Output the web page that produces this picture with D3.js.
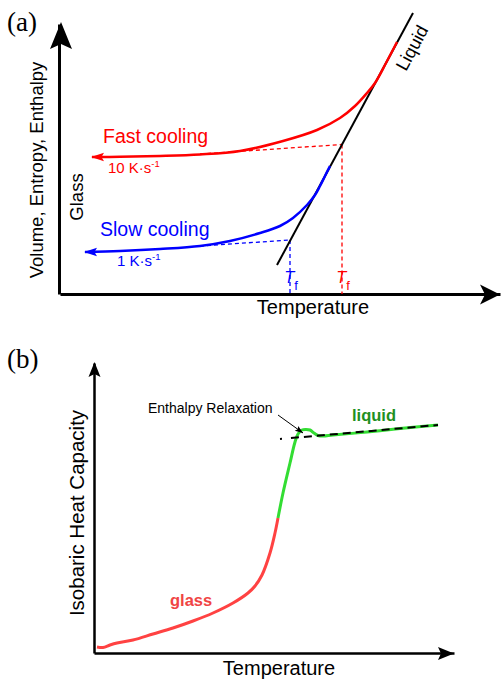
<!DOCTYPE html>
<html>
<head>
<meta charset="utf-8">
<script src="https://cdn.jsdelivr.net/npm/d3@7"></script>
<style>
body { margin: 0; background: #fff; }
svg { display: block; font-family: "Liberation Sans", Arial, sans-serif; }
</style>
</head>
<body>
<svg id="chart" width="501" height="681"></svg>
<script>
// ---- panel (a): schematic units (x = temperature, y = volume / entropy / enthalpy)
var liquidLine = [[217, 29], [353, 281]];
var fastCooling = [[32, 137], [60, 137.2], [100, 138], [140, 139.5], [180, 143], [223, 153],
  [257, 164], [280, 176], [295, 188], [307, 201], [315, 211], [326, 231], [337, 252]];
var slowCooling = [[25, 42], [60, 43], [100, 45], [140, 48], [170, 53], [200, 61], [220, 68],
  [233, 76], [247, 89], [255, 99], [260, 108], [265, 118], [270, 128]];
var fastGlass = [[140, 140], [282, 149.5]];   // glass line extrapolated to the liquid line
var slowGlass = [[140, 48], [230, 54]];
var rateLabels = ["10 K\u00b7s", "1 K\u00b7s"];

// ---- panel (b): schematic units (x = temperature, y = Cp)
var glassCp = [[3, 6], [9, 5.5], [16, 8], [23, 10], [39, 13], [59, 19], [79, 25], [99, 32],
  [119, 40], [139, 50], [154, 60], [161, 67], [168, 78], [176, 100], [181, 120], [184, 135]];
var liquidCp = [[184, 135], [189, 160], [196, 190], [201, 211], [204, 219], [208, 223],
  [212, 223.5], [216, 223], [220, 220], [224, 217.5], [229, 217], [239, 218], [273, 221],
  [306, 224.5], [344, 228]];
var liquidCpLine = [[186, 214], [344, 228]];
var relaxArrow = [[184, 238], [209, 220]];

var svg = d3.select('#chart');

var xa = d3.scaleLinear().domain([0, 440]).range([60, 500]);
var ya = d3.scaleLinear().domain([0, 270]).range([294, 24]);
var xb = d3.scaleLinear().domain([0, 360]).range([94, 454]);
var yb = d3.scaleLinear().domain([0, 290]).range([653, 363]);

function headPath(len, hw, notch) {
  return 'M0,0L' + (-len) + ',' + (-hw) + 'L' + (-len + notch) + ',0L' + (-len) + ',' + hw + 'Z';
}
function arrowHead(g, x, y, angle, len, hw, notch, color) {
  g.append('path')
    .attr('d', headPath(len, hw, notch))
    .attr('fill', color)
    .attr('transform', 'translate(' + x + ',' + y + ') rotate(' + angle + ')');
}

// ================= panel (a)
var ga = svg.append('g');
var lineA = d3.line().x(function(d) { return xa(d[0]); }).y(function(d) { return ya(d[1]); });
var curveA = d3.line().curve(d3.curveCatmullRom.alpha(0.5))
  .x(function(d) { return xa(d[0]); }).y(function(d) { return ya(d[1]); });

ga.append('g').attr('transform', 'translate(0,' + ya(0) + ')')
  .call(d3.axisBottom(xa).tickValues([]).tickSizeOuter(0))
  .select('.domain').attr('stroke-width', 3);
ga.append('g').attr('transform', 'translate(' + (xa(0) - 1) + ',0)')
  .call(d3.axisLeft(ya).tickValues([]).tickSizeOuter(0))
  .select('.domain').attr('stroke-width', 3);
arrowHead(ga, 61, 22, -90, 27, 11, 5, '#000');
arrowHead(ga, 500, 294.5, 0, 20, 10, 5, '#000');

// dashed glass extrapolations and fictive temperatures
[[fastGlass, '#ff0000'], [slowGlass, '#0000ff']].forEach(function(p) {
  var pts = p[0], c = p[1], end = pts[pts.length - 1];
  ga.append('path').attr('d', lineA(pts)).attr('fill', 'none')
    .attr('stroke', c).attr('stroke-width', 1.3).attr('stroke-dasharray', '4,3');
  ga.append('path').attr('d', lineA([end, [end[0], 0]])).attr('fill', 'none')
    .attr('stroke', c).attr('stroke-width', 1.3).attr('stroke-dasharray', '4,3');
  var tf = ga.append('text').attr('x', xa(end[0]) + 1).attr('y', 282.5)
    .attr('text-anchor', 'middle').attr('fill', c).attr('font-size', 16.5);
  tf.append('tspan').attr('font-style', 'italic').text('T');
  tf.append('tspan').attr('font-size', 13).attr('dy', 7).text('f');
});

ga.append('path').attr('d', lineA(liquidLine)).attr('fill', 'none')
  .attr('stroke', '#000').attr('stroke-width', 2);

[[fastCooling, '#ff0000'], [slowCooling, '#0000ff']].forEach(function(p) {
  var pts = p[0];
  ga.append('path').attr('d', curveA(pts)).attr('fill', 'none')
    .attr('stroke', p[1]).attr('stroke-width', 2.5);
  arrowHead(ga, xa(pts[0][0]) - 1, ya(pts[0][1]), 180, 13, 4.3, 2.5, p[1]);
});

ga.append('text').attr('x', 103).attr('y', 143).attr('fill', '#ff0000')
  .attr('font-size', 19.5).text('Fast cooling');
ga.append('text').attr('x', 100).attr('y', 236).attr('fill', '#0000ff')
  .attr('font-size', 19.5).text('Slow cooling');
[[rateLabels[0], 108, 173, '#ff0000'], [rateLabels[1], 117, 266, '#0000ff']].forEach(function(r) {
  var t = ga.append('text').attr('x', r[1]).attr('y', r[2]).attr('fill', r[3]).attr('font-size', 15);
  t.append('tspan').text(r[0]);
  t.append('tspan').attr('font-size', 9.5).attr('dy', -6).text('-1');
});

var ang = Math.atan2(ya(liquidLine[1][1]) - ya(liquidLine[0][1]), xa(liquidLine[1][0]) - xa(liquidLine[0][0])) * 180 / Math.PI;
ga.append('text').attr('transform', 'translate(406,72) rotate(' + ang + ')')
  .attr('font-size', 18).text('Liquid');

ga.append('text').attr('transform', 'translate(42.5,170) rotate(-90)')
  .attr('text-anchor', 'middle').attr('font-size', 18.5).text('Volume, Entropy, Enthalpy');
ga.append('text').attr('transform', 'translate(83,197) rotate(-90)')
  .attr('text-anchor', 'middle').attr('font-size', 18.5).text('Glass');
ga.append('text').attr('x', 313).attr('y', 313.5).attr('text-anchor', 'middle')
  .attr('font-size', 20).text('Temperature');
ga.append('text').attr('x', 7).attr('y', 31).attr('font-family', '"Liberation Serif", serif')
  .attr('font-size', 27).text('(a)');

// ================= panel (b)
var gb = svg.append('g');
var lineB = d3.line().x(function(d) { return xb(d[0]); }).y(function(d) { return yb(d[1]); });
var curveB = d3.line().curve(d3.curveCatmullRom.alpha(0.5))
  .x(function(d) { return xb(d[0]); }).y(function(d) { return yb(d[1]); });

gb.append('g').attr('transform', 'translate(0,' + yb(0) + ')')
  .call(d3.axisBottom(xb).tickValues([]).tickSizeOuter(0))
  .select('.domain').attr('stroke-width', 2.5);
gb.append('g').attr('transform', 'translate(' + xb(0) + ',0)')
  .call(d3.axisLeft(yb).tickValues([]).tickSizeOuter(0))
  .select('.domain').attr('stroke-width', 2.5);
arrowHead(gb, 94.5, 362, -90, 15, 6, 3, '#000');
arrowHead(gb, 454, 653.5, 0, 16, 6.5, 3, '#000');

gb.append('path').attr('d', curveB(glassCp)).attr('fill', 'none')
  .attr('stroke', '#ff4242').attr('stroke-width', 3);
gb.append('path').attr('d', curveB(liquidCp)).attr('fill', 'none')
  .attr('stroke', '#33dd33').attr('stroke-width', 3);
gb.append('path').attr('d', lineB(liquidCpLine)).attr('fill', 'none')
  .attr('stroke', '#000').attr('stroke-width', 2).attr('stroke-dasharray', '2,9,8,5,8,5,8,5,8,5,8,5,8,5,8,5,8,5,8,5,8,5,8,5,8,5,8,5,8,5,8,5');

gb.append('path').attr('d', lineB(relaxArrow)).attr('stroke', '#000').attr('stroke-width', 1);
var ra = Math.atan2(yb(relaxArrow[1][1]) - yb(relaxArrow[0][1]), xb(relaxArrow[1][0]) - xb(relaxArrow[0][0])) * 180 / Math.PI;
arrowHead(gb, xb(relaxArrow[1][0]), yb(relaxArrow[1][1]), ra, 8, 3, 1.5, '#000');

gb.append('text').attr('x', 148).attr('y', 413).attr('font-size', 14).text('Enthalpy Relaxation');
gb.append('text').attr('x', 170).attr('y', 606).attr('font-size', 16.5).attr('font-weight', 'bold')
  .attr('fill', '#f04444').text('glass');
gb.append('text').attr('x', 352).attr('y', 421).attr('font-size', 16.5).attr('font-weight', 'bold')
  .attr('fill', '#1f901f').text('liquid');
gb.append('text').attr('transform', 'translate(83.5,513) rotate(-90)')
  .attr('text-anchor', 'middle').attr('font-size', 20.5).text('Isobaric Heat Capacity');
gb.append('text').attr('x', 279).attr('y', 675).attr('text-anchor', 'middle')
  .attr('font-size', 20).text('Temperature');
gb.append('text').attr('x', 7).attr('y', 368).attr('font-family', '"Liberation Serif", serif')
  .attr('font-size', 27).text('(b)');
</script>
</body>
</html>
